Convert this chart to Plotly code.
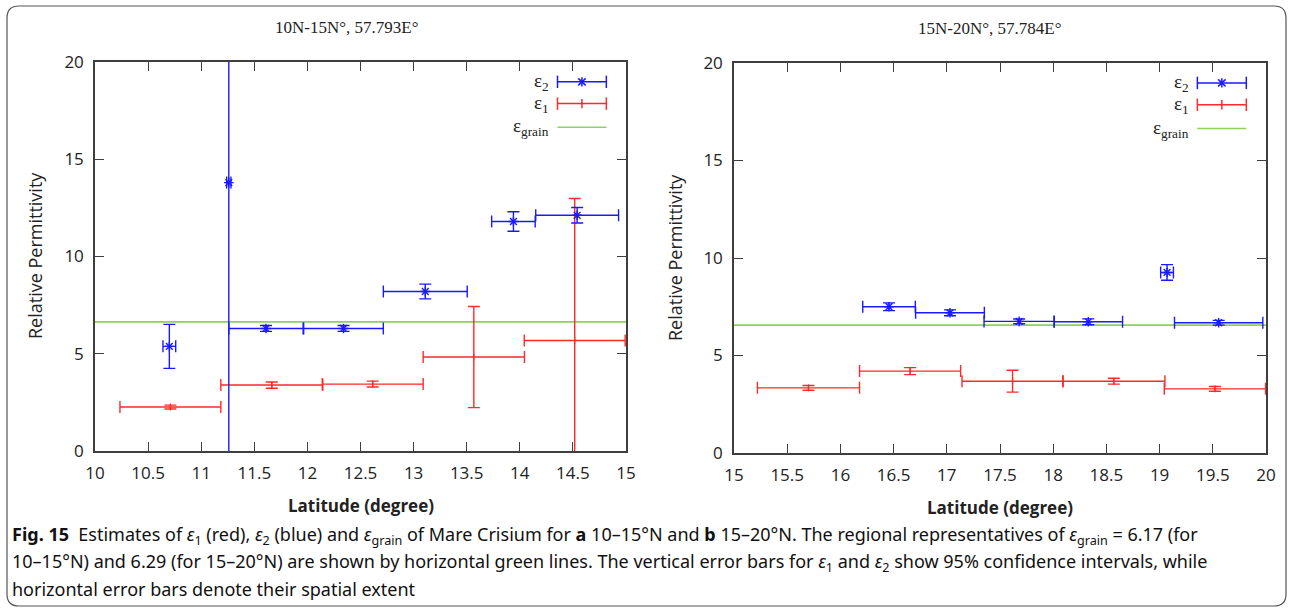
import plotly.graph_objects as go

# ---- panel a: 10N-15N ----
a_eps2_lat = [10.70, 11.26, 11.61, 12.34, 13.11, 13.94, 14.54]
a_eps2_val = [5.38, 13.80, 6.30, 6.30, 8.20, 11.80, 12.12]
a_eps2_yerr = [1.13, 30.0, 0.15, 0.15, 0.38, 0.50, 0.40]
a_eps2_xerr = [0.06, 0.02, 0.35, 0.375, 0.395, 0.205, 0.39]

a_eps1_lat = [10.71, 11.665, 12.615, 13.567, 14.517]
a_eps1_val = [2.26, 3.39, 3.44, 4.83, 5.68]
a_eps1_yerr = [0.10, 0.16, 0.15, 2.60, 7.30]
a_eps1_xerr = [0.475, 0.48, 0.475, 0.477, 0.475]

a_grain = 6.64

# ---- panel b: 15N-20N ----
b_eps2_lat = [16.457, 17.03, 17.68, 18.33, 19.07, 19.555]
b_eps2_val = [7.50, 7.19, 6.75, 6.73, 9.26, 6.68]
b_eps2_yerr = [0.20, 0.15, 0.12, 0.15, 0.40, 0.12]
b_eps2_xerr = [0.247, 0.323, 0.33, 0.322, 0.06, 0.415]

b_eps1_lat = [15.70, 16.655, 17.618, 18.57, 19.52]
b_eps1_val = [3.34, 4.20, 3.68, 3.68, 3.29]
b_eps1_yerr = [0.12, 0.18, 0.56, 0.15, 0.12]
b_eps1_xerr = [0.48, 0.475, 0.475, 0.48, 0.476]

b_grain = 6.56

panel_titles = ["10N-15N°, 57.793E°", "15N-20N°, 57.784E°"]
x_ranges = [[10, 15], [15, 20]]
x_ticks = [[10, 10.5, 11, 11.5, 12, 12.5, 13, 13.5, 14, 14.5, 15],
           [15, 15.5, 16, 16.5, 17, 17.5, 18, 18.5, 19, 19.5, 20]]
y_ticks = [0, 5, 10, 15, 20]

BLUE = "#1a1aff"
RED = "#ff2a2a"
GREEN = "#8fd15a"
AXIS = "#3f3f3f"
W, H = 1292, 610


def px(x):
    return x / W


def py(y):
    return 1 - y / H


fig = go.Figure()


def add_panel(xa, ya, e2x, e2y, e2ey, e2ex, e1x, e1y, e1ey, e1ex, grain, xr):
    fig.add_trace(go.Scatter(
        x=[xr[0], xr[1]], y=[grain, grain], mode="lines",
        line=dict(color=GREEN, width=1.6), xaxis=xa, yaxis=ya, showlegend=False,
        hoverinfo="skip"))
    fig.add_trace(go.Scatter(
        x=e1x, y=e1y, mode="markers",
        marker=dict(symbol="line-ns-open", size=5, color=RED, line=dict(color=RED, width=1.2)),
        error_y=dict(type="data", array=e1ey, color=RED, thickness=1.4, width=6),
        error_x=dict(type="data", array=e1ex, color=RED, thickness=1.4, width=6),
        xaxis=xa, yaxis=ya, showlegend=False))
    fig.add_trace(go.Scatter(
        x=e2x, y=e2y, mode="markers",
        marker=dict(symbol="asterisk-open", size=8, color=BLUE, line=dict(color=BLUE, width=1.4)),
        error_y=dict(type="data", array=e2ey, color=BLUE, thickness=1.4, width=6),
        error_x=dict(type="data", array=e2ex, color=BLUE, thickness=1.4, width=6),
        xaxis=xa, yaxis=ya, showlegend=False))


add_panel("x", "y", a_eps2_lat, a_eps2_val, a_eps2_yerr, a_eps2_xerr,
          a_eps1_lat, a_eps1_val, a_eps1_yerr, a_eps1_xerr, a_grain, x_ranges[0])
add_panel("x2", "y2", b_eps2_lat, b_eps2_val, b_eps2_yerr, b_eps2_xerr,
          b_eps1_lat, b_eps1_val, b_eps1_yerr, b_eps1_xerr, b_grain, x_ranges[1])

tick_font = dict(family="Open Sans", size=17, color="#222222")

axis_common = dict(showgrid=False, zeroline=False, showline=True, linecolor=AXIS,
                   linewidth=1.5, mirror="ticks", ticks="inside", ticklen=9,
                   tickwidth=1.3, tickcolor=AXIS, tickfont=tick_font, automargin=False)

domains = [
    dict(x=[px(95), px(626)], y=[py(451), py(62)]),
    dict(x=[px(734), px(1266)], y=[py(453), py(63)]),
]

fig.update_layout(
    width=W, height=H, margin=dict(l=0, r=0, t=0, b=0, autoexpand=False),
    paper_bgcolor="white", plot_bgcolor="white", showlegend=False,
    xaxis=dict(domain=domains[0]["x"], range=x_ranges[0], tickvals=x_ticks[0],
               ticktext=[f"{v:g}" for v in x_ticks[0]], anchor="y",
               ticklabelstandoff=6, **axis_common),
    yaxis=dict(domain=domains[0]["y"], range=[0, 20], tickvals=y_ticks, anchor="x",
               ticklabelstandoff=6, **axis_common),
    xaxis2=dict(domain=domains[1]["x"], range=x_ranges[1], tickvals=x_ticks[1],
                ticktext=[f"{v:g}" for v in x_ticks[1]], anchor="y2",
                ticklabelstandoff=6, **axis_common),
    yaxis2=dict(domain=domains[1]["y"], range=[0, 20], tickvals=y_ticks, anchor="x2",
                ticklabelstandoff=6, **axis_common),
)

annotations = []
shapes = []

# panel titles and axis labels
title_pos = [(346, 28), (989, 29)]
xlabel_pos = [(361, 505), (1000, 507)]
ylabel_pos = [(35, 256), (675, 258)]
for i in range(2):
    annotations.append(dict(x=px(title_pos[i][0]), y=py(title_pos[i][1]), xref="paper", yref="paper",
                            text=panel_titles[i], showarrow=False,
                            font=dict(family="Liberation Serif", size=17, color="#222222"),
                            xanchor="center", yanchor="middle"))
    annotations.append(dict(x=px(xlabel_pos[i][0]), y=py(xlabel_pos[i][1]), xref="paper", yref="paper",
                            text="<b>Latitude (degree)</b>", showarrow=False,
                            font=dict(family="Open Sans", size=17, color="#222222"),
                            xanchor="center", yanchor="middle"))
    annotations.append(dict(x=px(ylabel_pos[i][0]), y=py(ylabel_pos[i][1]), xref="paper", yref="paper",
                            text="Relative Permittivity", showarrow=False, textangle=-90,
                            font=dict(family="Open Sans", size=18, color="#222222"),
                            xanchor="center", yanchor="middle"))

# legend keys drawn in the top-right corner of each panel
legend_rows = [("ε<sub>2</sub>", BLUE, "star", 0.949),
               ("ε<sub>1</sub>", RED, "tick", 0.893),
               ("ε<sub>grain</sub>", GREEN, None, 0.832)]
for xa, ya in (("x", "y"), ("x2", "y2")):
    xd, yd = xa + " domain", ya + " domain"
    x0, x1 = 0.871, 0.963
    for label, col, kind, yy in legend_rows:
        annotations.append(dict(x=x0 - 0.012, y=yy, xref=xd, yref=yd, text=label, showarrow=False,
                                font=dict(family="Liberation Serif", size=19, color="#222222"),
                                xanchor="right", yanchor="middle"))
        shapes.append(dict(type="line", xref=xd, yref=yd, x0=x0, x1=x1, y0=yy, y1=yy,
                           line=dict(color=col, width=1.5)))
        if kind is not None:
            for xc in (x0, x1):
                shapes.append(dict(type="line", xref=xd, yref=yd, x0=xc, x1=xc,
                                   y0=yy - 0.016, y1=yy + 0.016, line=dict(color=col, width=1.5)))
            xm = (x0 + x1) / 2
            shapes.append(dict(type="line", xref=xd, yref=yd, x0=xm, x1=xm,
                               y0=yy - 0.012, y1=yy + 0.012, line=dict(color=col, width=1.5)))
            if kind == "star":
                shapes.append(dict(type="line", xref=xd, yref=yd, x0=xm - 0.007, x1=xm + 0.007,
                                   y0=yy - 0.009, y1=yy + 0.009, line=dict(color=col, width=1.5)))
                shapes.append(dict(type="line", xref=xd, yref=yd, x0=xm - 0.007, x1=xm + 0.007,
                                   y0=yy + 0.009, y1=yy - 0.009, line=dict(color=col, width=1.5)))

# caption
caption_lines = [
    "<b>Fig. 15</b>  Estimates of <i>ε</i><sub>1</sub> (red), <i>ε</i><sub>2</sub> (blue) and "
    "<i>ε</i><sub>grain</sub> of Mare Crisium for <b>a</b> 10–15°N and <b>b</b> 15–20°N. "
    "The regional representatives of <i>ε</i><sub>grain</sub> = 6.17 (for",
    "10–15°N) and 6.29 (for 15–20°N) are shown by horizontal green lines. The vertical error bars for "
    "<i>ε</i><sub>1</sub> and <i>ε</i><sub>2</sub> show 95% confidence intervals, while",
    "horizontal error bars denote their spatial extent",
]
caption_y = [535, 562, 589]
for txt, yy in zip(caption_lines, caption_y):
    annotations.append(dict(x=px(10), y=py(yy), xref="paper", yref="paper", text=txt,
                            showarrow=False, font=dict(family="Noto Sans", size=18, color="#111111"),
                            xanchor="left", yanchor="middle", align="left"))

# rounded outer frame
fx0, fy0, fx1, fy1, r = 7, 6, 1286, 606, 12
path = (f"M {px(fx0 + r)},{py(fy0)} L {px(fx1 - r)},{py(fy0)} "
        f"Q {px(fx1)},{py(fy0)} {px(fx1)},{py(fy0 + r)} L {px(fx1)},{py(fy1 - r)} "
        f"Q {px(fx1)},{py(fy1)} {px(fx1 - r)},{py(fy1)} L {px(fx0 + r)},{py(fy1)} "
        f"Q {px(fx0)},{py(fy1)} {px(fx0)},{py(fy1 - r)} L {px(fx0)},{py(fy0 + r)} "
        f"Q {px(fx0)},{py(fy0)} {px(fx0 + r)},{py(fy0)} Z")
shapes.append(dict(type="path", xref="paper", yref="paper", path=path,
                   line=dict(color="#555555", width=1.2), layer="below"))

fig.update_layout(annotations=annotations, shapes=shapes)
fig.write_html("out.html")
